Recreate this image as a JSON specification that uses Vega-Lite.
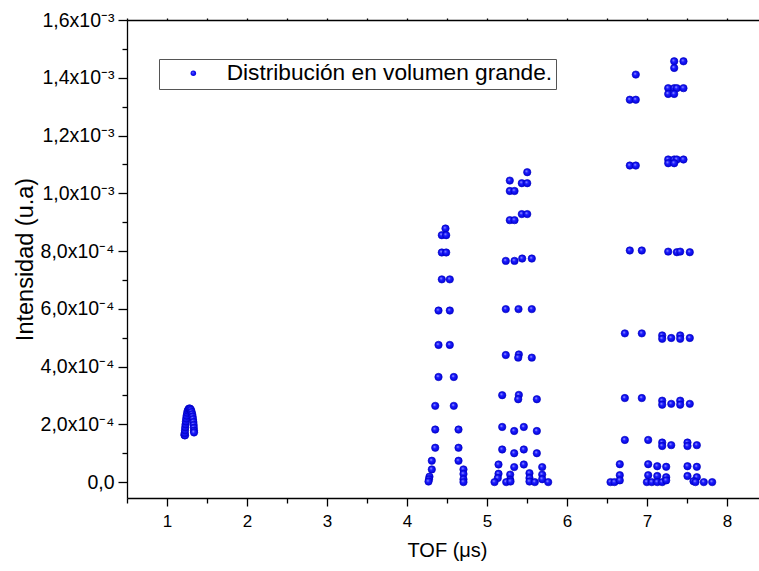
{
  "$schema": "https://vega.github.io/schema/vega-lite/v6.json",
  "autosize": "none",
  "padding": {"left": 127, "top": 20, "right": 0, "bottom": 73},
  "width": 640,
  "height": 478,
  "background": "white",
  "config": {
    "view": {"stroke": null},
    "axis": {"grid": false, "labelFont": "Liberation Sans", "titleFont": "Liberation Sans", "labelColor": "black", "titleColor": "black", "domainColor": "black", "tickColor": "black", "domainWidth": 1.3, "tickWidth": 1.3, "titleFontWeight": "normal"}
  },
  "data": {"values": [
    {"t": 1.218, "i": 1.65e-4}, {"t": 1.22, "i": 1.62e-4}, {"t": 1.226, "i": 1.62e-4}, {"t": 1.222, "i": 1.70e-4}, {"t": 1.225, "i": 1.80e-4}, {"t": 1.228, "i": 1.90e-4}, {"t": 1.232, "i": 2.00e-4}, {"t": 1.236, "i": 2.10e-4}, {"t": 1.24, "i": 2.20e-4}, {"t": 1.245, "i": 2.30e-4}, {"t": 1.252, "i": 2.40e-4}, {"t": 1.26, "i": 2.48e-4}, {"t": 1.27, "i": 2.53e-4}, {"t": 1.28, "i": 2.55e-4},
    {"t": 1.29, "i": 2.54e-4}, {"t": 1.30, "i": 2.50e-4}, {"t": 1.308, "i": 2.43e-4}, {"t": 1.315, "i": 2.35e-4}, {"t": 1.32, "i": 2.27e-4}, {"t": 1.325, "i": 2.18e-4}, {"t": 1.33, "i": 2.08e-4}, {"t": 1.333, "i": 1.98e-4}, {"t": 1.335, "i": 1.88e-4}, {"t": 1.337, "i": 1.78e-4}, {"t": 1.338, "i": 1.72e-4},

    {"t": 4.481, "i": 8.78e-4}, {"t": 4.435, "i": 8.55e-4}, {"t": 4.49, "i": 8.55e-4}, {"t": 4.435, "i": 7.95e-4}, {"t": 4.49, "i": 7.95e-4}, {"t": 4.435, "i": 7.02e-4}, {"t": 4.535, "i": 7.02e-4}, {"t": 4.394, "i": 5.94e-4}, {"t": 4.535, "i": 5.94e-4}, {"t": 4.394, "i": 4.75e-4}, {"t": 4.535, "i": 4.75e-4}, {"t": 4.394, "i": 3.64e-4}, {"t": 4.585, "i": 3.64e-4}, {"t": 4.353, "i": 2.64e-4}, {"t": 4.585, "i": 2.64e-4}, {"t": 4.353, "i": 1.82e-4}, {"t": 4.644, "i": 1.82e-4}, {"t": 4.353, "i": 1.19e-4}, {"t": 4.644, "i": 1.19e-4}, {"t": 4.31, "i": 0.74e-4}, {"t": 4.644, "i": 0.74e-4}, {"t": 4.31, "i": 0.44e-4}, {"t": 4.706, "i": 0.44e-4}, {"t": 4.281, "i": 0.19e-4}, {"t": 4.706, "i": 0.28e-4}, {"t": 4.275, "i": 0.10e-4}, {"t": 4.269, "i": 0.02e-4}, {"t": 4.706, "i": 0.10e-4}, {"t": 4.706, "i": 0.0},

    {"t": 5.503, "i": 10.73e-4}, {"t": 5.285, "i": 10.44e-4}, {"t": 5.435, "i": 10.35e-4}, {"t": 5.503, "i": 10.35e-4}, {"t": 5.285, "i": 10.08e-4}, {"t": 5.344, "i": 10.08e-4}, {"t": 5.435, "i": 9.28e-4}, {"t": 5.503, "i": 9.28e-4}, {"t": 5.285, "i": 9.07e-4}, {"t": 5.344, "i": 9.07e-4}, {"t": 5.235, "i": 7.66e-4}, {"t": 5.344, "i": 7.66e-4}, {"t": 5.44, "i": 7.74e-4}, {"t": 5.56, "i": 7.74e-4},
    {"t": 5.235, "i": 5.99e-4}, {"t": 5.394, "i": 5.99e-4}, {"t": 5.56, "i": 5.99e-4}, {"t": 5.235, "i": 4.40e-4}, {"t": 5.398, "i": 4.42e-4}, {"t": 5.39, "i": 4.31e-4}, {"t": 5.56, "i": 4.31e-4}, {"t": 5.19, "i": 3.01e-4}, {"t": 5.398, "i": 3.02e-4}, {"t": 5.39, "i": 2.87e-4}, {"t": 5.623, "i": 2.87e-4},
    {"t": 5.19, "i": 1.91e-4}, {"t": 5.34, "i": 1.77e-4}, {"t": 5.46, "i": 1.91e-4}, {"t": 5.623, "i": 1.77e-4}, {"t": 5.19, "i": 1.13e-4}, {"t": 5.34, "i": 1.00e-4}, {"t": 5.46, "i": 1.13e-4}, {"t": 5.623, "i": 1.00e-4}, {"t": 5.144, "i": 0.61e-4}, {"t": 5.34, "i": 0.52e-4}, {"t": 5.46, "i": 0.61e-4}, {"t": 5.69, "i": 0.52e-4},
    {"t": 5.144, "i": 0.29e-4}, {"t": 5.29, "i": 0.26e-4}, {"t": 5.531, "i": 0.31e-4}, {"t": 5.69, "i": 0.26e-4}, {"t": 5.135, "i": 0.14e-4}, {"t": 5.29, "i": 0.08e-4}, {"t": 5.531, "i": 0.14e-4}, {"t": 5.69, "i": 0.10e-4}, {"t": 5.094, "i": 0.0}, {"t": 5.24, "i": 0.0}, {"t": 5.294, "i": 0.02e-4}, {"t": 5.531, "i": 0.02e-4}, {"t": 5.598, "i": 0.0}, {"t": 5.765, "i": 0.0},

    {"t": 7.34, "i": 14.57e-4}, {"t": 7.456, "i": 14.57e-4}, {"t": 7.34, "i": 14.34e-4}, {"t": 6.86, "i": 14.11e-4}, {"t": 7.265, "i": 13.64e-4}, {"t": 7.34, "i": 13.64e-4}, {"t": 7.373, "i": 13.64e-4}, {"t": 7.456, "i": 13.64e-4}, {"t": 7.265, "i": 13.44e-4}, {"t": 7.34, "i": 13.44e-4}, {"t": 6.785, "i": 13.24e-4}, {"t": 6.86, "i": 13.24e-4},
    {"t": 7.265, "i": 11.17e-4}, {"t": 7.34, "i": 11.17e-4}, {"t": 7.373, "i": 11.17e-4}, {"t": 7.456, "i": 11.17e-4}, {"t": 7.265, "i": 11.04e-4}, {"t": 7.34, "i": 11.04e-4}, {"t": 6.785, "i": 10.96e-4}, {"t": 6.86, "i": 10.96e-4},
    {"t": 6.785, "i": 8.02e-4}, {"t": 6.935, "i": 8.02e-4}, {"t": 7.265, "i": 7.98e-4}, {"t": 7.373, "i": 7.96e-4}, {"t": 7.415, "i": 7.98e-4}, {"t": 7.535, "i": 7.96e-4},
    {"t": 6.723, "i": 5.15e-4}, {"t": 6.935, "i": 5.15e-4}, {"t": 7.19, "i": 5.08e-4}, {"t": 7.19, "i": 4.96e-4}, {"t": 7.303, "i": 4.99e-4}, {"t": 7.415, "i": 5.08e-4}, {"t": 7.415, "i": 4.96e-4}, {"t": 7.535, "i": 4.99e-4},
    {"t": 6.723, "i": 2.91e-4}, {"t": 6.935, "i": 2.91e-4}, {"t": 7.19, "i": 2.82e-4}, {"t": 7.19, "i": 2.68e-4}, {"t": 7.303, "i": 2.71e-4}, {"t": 7.415, "i": 2.82e-4}, {"t": 7.415, "i": 2.68e-4}, {"t": 7.535, "i": 2.71e-4},
    {"t": 6.723, "i": 1.46e-4}, {"t": 7.015, "i": 1.46e-4}, {"t": 7.19, "i": 1.37e-4}, {"t": 7.19, "i": 1.25e-4}, {"t": 7.303, "i": 1.28e-4}, {"t": 7.506, "i": 1.37e-4}, {"t": 7.506, "i": 1.25e-4}, {"t": 7.623, "i": 1.28e-4},
    {"t": 6.66, "i": 0.62e-4}, {"t": 7.015, "i": 0.62e-4}, {"t": 7.128, "i": 0.55e-4}, {"t": 7.24, "i": 0.53e-4}, {"t": 7.506, "i": 0.55e-4}, {"t": 7.623, "i": 0.53e-4},
    {"t": 6.66, "i": 0.24e-4}, {"t": 7.015, "i": 0.24e-4}, {"t": 7.128, "i": 0.21e-4}, {"t": 7.24, "i": 0.17e-4}, {"t": 7.506, "i": 0.21e-4}, {"t": 7.623, "i": 0.17e-4},
    {"t": 6.544, "i": 0.0}, {"t": 6.594, "i": 0.0}, {"t": 6.66, "i": 0.06e-4}, {"t": 6.998, "i": 0.0}, {"t": 7.06, "i": 0.0}, {"t": 7.128, "i": 0.0}, {"t": 7.19, "i": 0.0}, {"t": 7.24, "i": 0.06e-4}, {"t": 7.581, "i": 0.03e-4}, {"t": 7.606, "i": 0.0}, {"t": 7.71, "i": 0.0}, {"t": 7.815, "i": 0.0}
  ]},
  "resolve": {"axis": {"x": "independent", "y": "independent"}},
  "layer": [
    {
      "mark": {"type": "point", "opacity": 0},
      "encoding": {
        "x": {"field": "t", "type": "quantitative", "scale": {"domain": [0.5, 8.5], "nice": false, "zero": false},
              "axis": {"orient": "bottom", "values": [0.5, 1.5, 2.5, 3.5, 4.5, 5.5, 6.5, 7.5, 8.5], "labels": false, "domain": false, "tickSize": 5, "title": null}},
        "y": {"field": "i", "type": "quantitative", "scale": {"domain": [-0.000055, 0.0016], "nice": false, "zero": false},
              "axis": {"orient": "left", "values": [0.0001, 0.0003, 0.0005, 0.0007, 0.0009, 0.0011, 0.0013, 0.0015], "labels": false, "domain": false, "tickSize": 5, "title": null}}
      }
    },
    {
      "mark": {"type": "point", "opacity": 0},
      "encoding": {
        "x": {"field": "t", "type": "quantitative", "scale": {"domain": [0.5, 8.5], "nice": false, "zero": false},
              "axis": {"orient": "top", "values": [0.5, 1, 1.5, 2, 2.5, 3, 3.5, 4, 4.5, 5, 5.5, 6, 6.5, 7, 7.5, 8, 8.5], "labels": false, "tickSize": 2, "title": null}},
        "y": {"field": "i", "type": "quantitative", "scale": {"domain": [-0.000055, 0.0016], "nice": false, "zero": false}, "axis": null}
      }
    },
    {
      "mark": {"type": "point", "filled": true, "size": 55, "opacity": 1, "strokeWidth": 0.6, "stroke": "#0000c0",
               "color": {"gradient": "radial", "x1": 0.38, "y1": 0.35, "r1": 0, "x2": 0.5, "y2": 0.5, "r2": 0.55,
                         "stops": [{"offset": 0, "color": "#b8b8ff"}, {"offset": 0.35, "color": "#1e1eff"}, {"offset": 1, "color": "#0000d8"}]}},
      "encoding": {
        "x": {"field": "t", "type": "quantitative", "scale": {"domain": [0.5, 8.5], "nice": false, "zero": false},
              "axis": {"orient": "bottom", "values": [1, 2, 3, 4, 5, 6, 7, 8], "tickSize": 8, "labelFontSize": 17, "labelPadding": 7, "title": "TOF (μs)", "titleFontSize": 20, "titlePadding": 11}},
        "y": {"field": "i", "type": "quantitative", "scale": {"domain": [-0.000055, 0.0016], "nice": false, "zero": false},
              "axis": {"orient": "left", "values": [0, 0.0002, 0.0004, 0.0006, 0.0008, 0.001, 0.0012, 0.0014, 0.0016], "tickSize": 9, "labelFontSize": 19.5, "labelPadding": 4,
                       "labelExpr": "datum.value == 0 ? '0,0' : (datum.value < 0.00099 ? replace(format(datum.value*10000, '.1f'), '.', ',') + 'x10⁻⁴' : replace(format(datum.value*1000, '.1f'), '.', ',') + 'x10⁻³')",
                       "title": "Intensidad (u.a)", "titleFontSize": 23.5, "titlePadding": 3}},
        "shape": {"datum": "Distribución en volumen grande.", "type": "nominal", "scale": {"range": ["circle"]},
                  "legend": {"orient": "none", "legendX": 32, "legendY": 39, "title": null, "labelFont": "Liberation Sans", "labelFontSize": 22.7, "labelColor": "black", "labelLimit": 500,
                             "symbolFillColor": "#1e1eff", "symbolStrokeColor": "#0000d0", "symbolStrokeWidth": 0.5, "symbolSize": 30, "symbolOffset": 20, "labelOffset": 22,
                             "padding": 3, "strokeColor": "#555555", "fillColor": "white", "cornerRadius": 0}}
      }
    }
  ]
}
